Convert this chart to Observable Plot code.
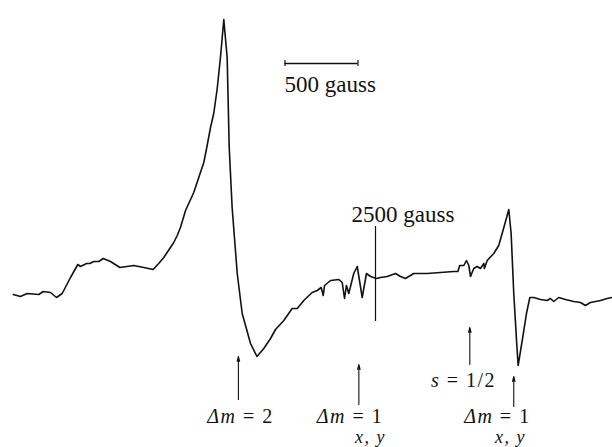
<!DOCTYPE html>
<html>
<head>
<meta charset="utf-8">
<script src="https://cdn.jsdelivr.net/npm/d3@7"></script>
<script src="https://cdn.jsdelivr.net/npm/@observablehq/plot@0.6"></script>
<style>
  html, body { margin: 0; padding: 0; background: #fff; }
  #chart svg { display: block; }
  #chart svg text { font-family: "Liberation Serif", "DejaVu Serif", serif !important; }
  #chart svg g.anno text { letter-spacing: 1.5px; }
  #chart svg g.anno-sub text { letter-spacing: 1.5px; }
</style>
</head>
<body>
<div id="chart"></div>
<script>
// Magnetic field (gauss) of the ESR trace
const field = [19, 68, 114, 194, 224, 274, 315, 354, 411, 461, 479, 521, 543, 571, 605, 635, 685, 749, 844, 913, 977, 1015, 1050, 1118, 1142, 1164, 1199, 1255, 1324, 1347, 1370, 1392, 1416, 1438, 1461, 1484, 1498, 1518, 1553, 1587, 1644, 1688, 1735, 1781, 1815, 1872, 1929, 1964, 2009, 2066, 2101, 2128, 2142, 2151, 2192, 2249, 2272, 2288, 2301, 2317, 2351, 2375, 2409, 2438, 2466, 2507, 2534, 2580, 2637, 2671, 2705, 2762, 2854, 2945, 3036, 3064, 3077, 3105, 3123, 3139, 3151, 3173, 3196, 3219, 3242, 3246, 3265, 3310, 3344, 3379, 3413, 3429, 3447, 3466, 3477, 3505, 3534, 3557, 3584, 3630, 3676, 3698, 3721, 3755, 3801, 3858, 3904, 3938, 3972, 4041, 4087, 4121];
// Derivative signal (arbitrary units)
const signal = [6, 4, 7, 6, 9, 8, 3, 7, 23, 36, 34, 37, 37, 39, 39, 42, 39, 33, 35, 33, 31, 37, 43, 58, 65, 73, 90, 108, 138, 155, 173, 187, 212, 243, 281, 243, 153, 93, 27, -13, -43, -56, -48, -38, -29, -20, -8, -8, 0, 8, 10, 13, 5, 15, 20, 21, 18, 2, 15, 7, 27, 34, 3, 27, 24, 22, 23, 24, 27, 24, 22, 27, 27, 28, 29, 29, 35, 35, 40, 35, 24, 32, 34, 32, 37, 32, 40, 47, 55, 73, 91, 67, 7, -40, -65, -40, -13, 3, 3, 1, 0, 2, -1, 3, 1, -1, -2, -5, -2, 0, 2, 3];

// Arrow annotations
const arrowField = [1561, 2386, 3146, 3447];
const arrowFrom = [-99, -104, -64, -106];
const arrowTo = [-56, -64, -27, -76];

// Annotation labels
const labelText = ["Δm = 2", "Δm = 1", "s = 1/2", "Δm = 1"];
const labelField = [1575, 2325, 3103, 3335];
const labelSignal = [-116, -116, -80, -116];
// Axis-direction sublabels
const subText = ["x, y", "x, y"];
const subField = [2466, 3425];
const subSignal = [-137, -137];

// Scale bar and field marker
const scaleBar = [1880, 2380];
const scaleBarLevel = 237;
const scaleText = ["500 gauss", "2500 gauss"];
const scaleTextField = [1877, 2336];
const scaleTextSignal = [216, 86];
const markerField = 2500;
const markerSpan = [-21, 74];

const trace = field.map((f, i) => ({f, s: signal[i]}));
const arrows = arrowField.map((f, i) => ({f, a: arrowFrom[i], b: arrowTo[i]}));
const labels = labelText.map((t, i) => ({t, f: labelField[i], s: labelSignal[i]}));
const subs = subText.map((t, i) => ({t, f: subField[i], s: subSignal[i]}));
const scales = scaleText.map((t, i) => ({t, f: scaleTextField[i], s: scaleTextSignal[i]}));

const FONT = "Liberation Serif";

const chart = Plot.plot({
  width: 612,
  height: 447,
  margin: 0,
  style: {background: "#fff", fontFamily: FONT},
  x: {domain: [-68.5, 4123.3], axis: null},
  y: {domain: [-147, 300], axis: null},
  marks: [
    Plot.line(trace, {x: "f", y: "s", stroke: "#111", strokeWidth: 1.6, curve: "linear"}),
    Plot.ruleX([markerField], {y1: markerSpan[0], y2: markerSpan[1], stroke: "#111", strokeWidth: 1.2}),
    Plot.ruleY([scaleBarLevel], {x1: scaleBar[0], x2: scaleBar[1], stroke: "#111", strokeWidth: 1.4}),
    Plot.ruleX(scaleBar, {y1: scaleBarLevel - 3, y2: scaleBarLevel + 3, stroke: "#111", strokeWidth: 1.2}),
    Plot.arrow(arrows, {x: "f", y1: "a", y2: "b", stroke: "#111", strokeWidth: 1.1, headLength: 7, headAngle: 28}),
    Plot.text(scales, {x: "f", y: "s", text: "t", textAnchor: "start", fontSize: 23, fill: "#111", fontFamily: FONT}),
    Plot.text(labels, {x: "f", y: "s", text: "t", textAnchor: "middle", fontSize: 20, fill: "#111", fontFamily: FONT, className: "anno"}),
    Plot.text(subs, {x: "f", y: "s", text: "t", textAnchor: "middle", fontSize: 18, fontStyle: "italic", fill: "#111", fontFamily: FONT, className: "anno-sub"})
  ]
});

// Italicise the variable symbols in the annotation labels
d3.select(chart).selectAll("g.anno text").each(function() {
  const el = d3.select(this);
  const txt = el.text();
  el.text(null);
  const parts = [];
  if (txt.startsWith("Δm")) {
    parts.push(["Δm", true], [txt.slice(2), false]);
  } else if (txt.startsWith("s")) {
    parts.push(["s", true], [txt.slice(1), false]);
  } else {
    parts.push([txt, false]);
  }
  for (const [p, it] of parts) {
    el.append("tspan").attr("font-style", it ? "italic" : "normal").text(p);
  }
});

document.getElementById("chart").appendChild(chart);
</script>
</body>
</html>
